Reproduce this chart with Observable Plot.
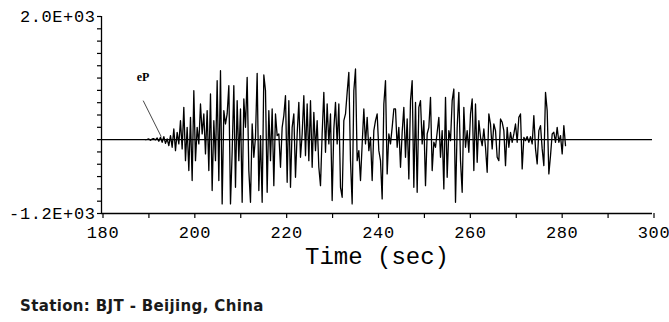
<!DOCTYPE html>
<html><head><meta charset="utf-8">
<script src="https://cdn.jsdelivr.net/npm/d3@7"></script>
<script src="https://cdn.jsdelivr.net/npm/@observablehq/plot@0.6"></script>
<style>
html,body{margin:0;padding:0;background:#fff;}
#wrap{position:relative;width:669px;height:322px;overflow:hidden;background:#fff;}
#cap{position:absolute;left:20px;top:297px;font:bold 15px "DejaVu Sans",sans-serif;letter-spacing:0.35px;color:#1a1a1a;line-height:18px;white-space:nowrap;}
#chart svg g[aria-label="x-axis tick label"] text,#chart svg g[aria-label="y-axis tick label"] text{letter-spacing:0.6px;}
</style></head><body>
<div id="wrap"><div id="chart"></div><div id="cap">Station: BJT - Beijing, China</div></div>
<script>
// Seismogram samples (counts); uniform sampling
const startTime = 189.58;   // seconds
const sampleStep = 0.363;   // seconds
const amplitude = [
  0,5,11,-10,10,16,-5,27,-27,38,-43,49,-60,11,-97,65,-124,173,-179,119,
  -70,308,-151,525,-341,200,-503,362,-665,795,-341,200,-70,579,92,417,-233,471,-503,741,
  -828,308,-341,958,-665,1120,-1044,471,
  254,417,876,-1044,-200,876,-774,633,-341,498,-1017,660,200,1012,-503,-1017,254,-287,38,1077,
  -828,65,-1017,1050,795,-855,471,-341,498,-747,417,65,92,-449,200,390,714,-692,633,-774,
  200,417,-611,92,606,-287,92,714,-260,579,-341,
  633,-449,444,-179,308,-449,-747,100,768,-206,579,-70,417,-990,173,606,-70,579,-774,-936,
  308,417,768,1093,-341,-1044,795,1147,-341,-179,-665,-70,498,-70,362,-179,38,-665,146,308,
  417,-179,-341,-963,579,958,-557,92,-70,200,498,
  498,-124,200,-449,119,525,-287,335,-638,633,958,-774,606,-855,525,633,-70,308,-747,92,
  200,687,-503,-43,-124,119,362,-287,146,-801,687,-611,146,-16,633,822,-1017,200,768,-341,
  -855,525,-124,146,-206,417,660,-503,579,-368,308,
  38,-97,173,-124,-530,417,254,-151,254,146,-287,-341,335,281,146,-422,200,-124,119,-43,
  92,254,-43,362,417,-476,38,-16,49,-43,49,-70,390,-151,-395,146,227,-151,-422,768,
  471,-557,-260,92,119,-43,200,-43,65,-233,227,-97
];
const xTicks = [180,190,200,210,220,230,240,250,260,270,280,290,300];
const xTickLabels = ["180","","200","","220","","240","","260","","280","","300"];
const yTicks = [-1200,-1000,-800,-600,-400,-200,0,200,400,600,800,1000,1200,1400,1600,1800,2000];
const yTickLabels = ["-1.2E+03","","","","","","","","","","","","","","","","2.0E+03"];
const xTitle = "Time (sec)";
const phaseLabel = [{t: 189.04, v: 1007, name: "eP"}];
const phaseArrow = [{t1: 189.08, v1: 633, t2: 193.0, v2: 49}];

const wave = amplitude.map((v, i) => ({t: startTime + i * sampleStep, v}));
const xFmt = new Map(xTicks.map((d, i) => [d, xTickLabels[i]]));
const yFmt = new Map(yTicks.map((d, i) => [d, yTickLabels[i]]));

const chart = Plot.plot({
  width: 669, height: 290,
  marginLeft: 101, marginRight: 17, marginTop: 16, marginBottom: 77,
  x: {domain: [180, 300]},
  y: {domain: [-1200, 2000]},
  style: {background: "#fff", color: "#000", fontFamily: "'Liberation Mono', monospace"},
  marks: [
    Plot.ruleY([0], {stroke: "#000", strokeWidth: 1.2}),
    Plot.line(wave, {x: "t", y: "v", stroke: "#000", strokeWidth: 1.3}),
    Plot.ruleX([180], {stroke: "#000", strokeWidth: 1.3}),
    Plot.ruleY([-1200], {stroke: "#000", strokeWidth: 1.3}),
    Plot.axisX({ticks: xTicks, tickFormat: d => xFmt.get(d), tickSize: 5, tickPadding: 7,
      fontSize: 17, label: null, stroke: "#000", strokeWidth: 1.2, dx: 1.5}),
    Plot.axisY({ticks: yTicks, tickFormat: d => yFmt.get(d), tickSize: 4, tickPadding: 2,
      fontSize: 17, label: null, stroke: "#000", strokeWidth: 1.2}),
    Plot.text([xTitle], {frameAnchor: "bottom", lineAnchor: "middle", dy: 43, fontSize: 24, fill: "#000"}),
    Plot.link(phaseArrow, {x1: "t1", y1: "v1", x2: "t2", y2: "v2", stroke: "#333", strokeWidth: 0.9}),
    Plot.text(phaseLabel, {x: "t", y: "v", text: "name", fontSize: 12, fontWeight: "bold",
      fontFamily: "'Liberation Serif', serif", fill: "#000"})
  ]
});
document.getElementById("chart").appendChild(chart);
</script>
</body></html>
